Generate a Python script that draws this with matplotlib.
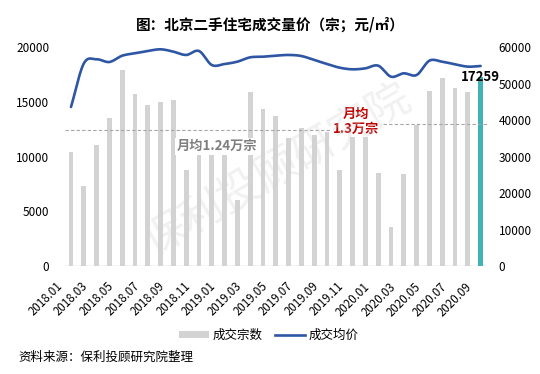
import numpy as np
import matplotlib
matplotlib.use("Agg")
import matplotlib.pyplot as plt
import matplotlib.transforms as mtransforms
from matplotlib.patches import Patch
from matplotlib.lines import Line2D

plt.rcParams['font.family'] = ['Noto Sans CJK SC', 'DejaVu Sans']

# ---------------- data ----------------
months = [f"{y}.{m:02d}" for y in (2018, 2019, 2020) for m in range(1, 13)][:33]
volume = [10450, 7300, 11050, 13580, 17960, 15700, 14700, 14980, 15160, 8770, 11200, 11500,
          10340, 6030, 15920, 14340, 13700, 11720, 12630, 11960, 12270, 8770, 13600, 14000,
          8470, 3590, 8400, 12940, 15980, 17170, 16250, 15920, 17259]
price = [43620, 55560, 56710, 55970, 57700, 58350, 58980, 59450, 58800, 57900, 58980, 55140,
         55420, 56060, 57250, 57420, 57700, 57900, 57610, 56520, 55420, 54400, 53960, 54230,
         54960, 51940, 52860, 52400, 56330, 56050, 55330, 54690, 54870]
avg_1819 = 12400
avg_2020 = 13000
label_1819 = "月均1.24万宗"
label_2020 = "月均\n1.3万宗"
title = "图：北京二手住宅成交量价（宗；元/㎡）"
source = "资料来源：保利投顾研究院整理"
watermark = "保利投顾研究院"
legend_labels = ["成交宗数", "成交均价"]

# ---------------- figure ----------------
W, H = 540, 374
fig = plt.figure(figsize=(W / 100, H / 100), dpi=100)
ax = fig.add_axes([64.6 / W, 108 / H, 422.4 / W, 218.7 / H])
ax2 = ax.twinx()

x = np.arange(len(months))
bar_colors = ['#d3d3d3'] * (len(x) - 1) + ['#3fb3b5']
ax.bar(x, volume, width=0.36, color=bar_colors, zorder=2)
ax.set_xlim(-0.5, len(x) - 0.5)
ax.set_ylim(0, 20000)
ax.set_yticks(np.arange(0, 20001, 5000))
ax2.set_ylim(0, 60000)
ax2.set_yticks(np.arange(0, 60001, 10000))

# average dashed lines
ax.plot([-0.5, 23.5], [avg_1819] * 2, ls=(0, (3, 2)), color='#a6a6a6', lw=0.8, zorder=3)
ax.plot([23.5, len(x) - 0.5], [avg_2020] * 2, ls=(0, (3, 2)), color='#a6a6a6', lw=0.8, zorder=3)

# smooth price line (Catmull-Rom rendering through data points)
def catmull(xs, ys, n=12):
    xs = np.asarray(xs, float); ys = np.asarray(ys, float)
    px = np.concatenate([[2 * xs[0] - xs[1]], xs, [2 * xs[-1] - xs[-2]]])
    py = np.concatenate([[2 * ys[0] - ys[1]], ys, [2 * ys[-1] - ys[-2]]])
    ox, oy = [], []
    t = np.linspace(0, 1, n, endpoint=False)
    for i in range(1, len(px) - 2):
        for arr, out in ((px, ox), (py, oy)):
            p0, p1, p2, p3 = arr[i - 1], arr[i], arr[i + 1], arr[i + 2]
            out.extend(0.5 * ((2 * p1) + (-p0 + p2) * t + (2 * p0 - 5 * p1 + 4 * p2 - p3) * t ** 2
                              + (-p0 + 3 * p1 - 3 * p2 + p3) * t ** 3))
    ox.append(xs[-1]); oy.append(ys[-1])
    return np.array(ox), np.array(oy)

sx, sy = catmull(x, price)
ax2.plot(sx, sy, color='#2e56a4', lw=1.9, solid_capstyle='round', zorder=4)

# styling
for a in (ax, ax2):
    for s in ('top', 'left', 'right', 'bottom'):
        a.spines[s].set_visible(False)
ax.axhline(0, color='#d0d0d0', lw=1.0, zorder=1)
ax.tick_params(axis='y', length=0, pad=11, labelsize=8.5, labelcolor='#000000')
ax2.tick_params(axis='y', length=0, pad=8.5, labelsize=8.5, labelcolor='#000000')
ax.set_xticks(x[::2])
ax.set_xticklabels(months[::2], rotation=45, ha='right', va='top', fontsize=8.3)
ax.tick_params(axis='x', length=0, pad=10)
offset = mtransforms.ScaledTranslation(-6 / 100, 0, fig.dpi_scale_trans)
for lab in ax.get_xticklabels():
    lab.set_transform(lab.get_transform() + offset)

# annotations
ax.text(11.4, 10950, label_1819, ha='center', va='center', fontsize=9.5, fontweight='bold',
        color='#7f7f7f', zorder=5,
        bbox=dict(facecolor='white', edgecolor='none', pad=1.0))
ax.text(22.3, 13250, label_2020, ha='center', va='center', fontsize=9.5, fontweight='bold',
        color='#c00000', zorder=5, linespacing=1.1,
        bbox=dict(facecolor='white', edgecolor='none', pad=1.0))
ax.text(x[-1], volume[-1], f"{volume[-1]}", ha='center', va='center', fontsize=9.5,
        fontweight='bold', color='#000000', zorder=6)

# title, legend, source
fig.text(0.5, 1 - 25 / H, title, ha='center', va='center', fontsize=10.5, fontweight='bold')
handles = [Patch(facecolor='#d3d3d3', edgecolor='none'),
           Line2D([0], [0], color='#2e56a4', lw=1.9)]
fig.legend(handles, legend_labels, loc='center', bbox_to_anchor=(269 / W, 1 - 335 / H),
           ncol=2, frameon=False, fontsize=9, handlelength=2.4, handleheight=0.5,
           handletextpad=0.3, columnspacing=1.0)
fig.text(18 / W, 1 - 357 / H, source, ha='left', va='center', fontsize=9)

# watermark
fig.text(278 / W, 1 - 171 / H, watermark, ha='center', va='center', rotation=30,
         fontsize=31, color='#d0d0d0', alpha=0.3, zorder=10)

fig.savefig("out.png", dpi=100)
